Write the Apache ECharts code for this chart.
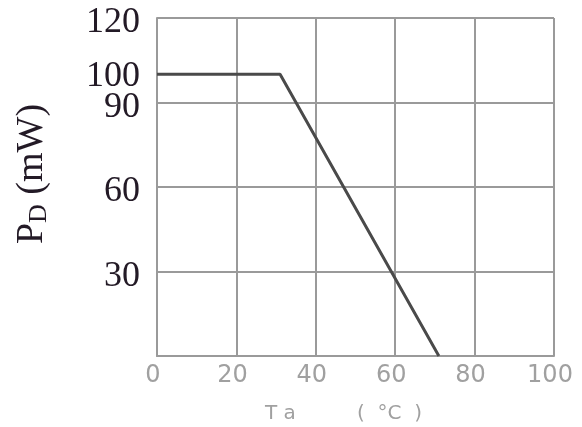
<!DOCTYPE html>
<html>
<head>
<meta charset="utf-8">
<script src="https://cdn.jsdelivr.net/npm/echarts@6/dist/echarts.min.js"></script>
<style>
html,body{margin:0;padding:0;background:#fff;}
#chart{width:582px;height:427px;}
</style>
</head>
<body>
<div id="chart"></div>
<script>
// Data
var temperature = [0, 31, 71];        // Ta (°C)
var powerDissipation = [100, 100, 0]; // PD (mW)
var yGridLabels = [30, 60, 90, 120];
var yExtraLabels = [100];
var xTitleName = 'T a';
var xTitleUnit = '(  °C  )';

var points = temperature.map(function (t, i) { return [t, powerDissipation[i]]; });

var chart = echarts.init(document.getElementById('chart'), null, {renderer: 'canvas'});
var gridColor = '#9a9a9a';
var serifLabel = {fontFamily: 'Liberation Serif', fontSize: 36, color: '#231a26', padding: [10, 0, 0, 0]};
chart.setOption({
  animation: false,
  backgroundColor: '#ffffff',
  grid: {left: 157, right: 28, top: 18, bottom: 71, containLabel: false},
  xAxis: {
    type: 'value', min: 0, max: 100, interval: 20,
    axisLine: {show: true, lineStyle: {color: gridColor, width: 2}},
    axisTick: {show: false},
    splitLine: {show: true, lineStyle: {color: gridColor, width: 2}},
    axisLabel: {
      color: '#a0a0a0', fontFamily: 'DejaVu Sans', fontSize: 24, margin: 8,
      padding: [0, 8, 0, 0]
    }
  },
  yAxis: [{
    type: 'value', min: 0, max: 120, interval: 30, position: 'left',
    axisLine: {show: true, lineStyle: {color: gridColor, width: 2}},
    axisTick: {show: false},
    splitLine: {show: true, lineStyle: {color: gridColor, width: 2}},
    axisLabel: {
      color: '#231a26', fontFamily: 'Liberation Serif', fontSize: 36, margin: 17,
      rich: {s: serifLabel},
      formatter: function (v) { return yGridLabels.indexOf(v) >= 0 ? '{s|' + v + '}' : ''; }
    }
  }, {
    type: 'value', min: 0, max: 120, interval: 10, position: 'left',
    axisLine: {show: false}, axisTick: {show: false}, splitLine: {show: false},
    axisLabel: {
      color: '#231a26', fontFamily: 'Liberation Serif', fontSize: 36, margin: 17,
      rich: {s: {fontFamily: 'Liberation Serif', fontSize: 36, color: '#231a26', padding: [4, 0, 0, 0]}},
      formatter: function (v) { return yExtraLabels.indexOf(v) >= 0 ? '{s|' + v + '}' : ''; }
    }
  }],
  series: [{
    type: 'line',
    data: points,
    showSymbol: false,
    lineStyle: {color: '#4a4a4a', width: 3},
    z: 5
  }],
  graphic: [{
    type: 'text',
    left: 265, top: 404,
    style: {text: xTitleName, fill: '#a0a0a0', font: '20px "DejaVu Sans"'}
  }, {
    type: 'text',
    left: 357, top: 404,
    style: {text: xTitleUnit, fill: '#a0a0a0', font: '20px "DejaVu Sans"'}
  }, {
    type: 'text',
    x: 32, y: 174,
    rotation: Math.PI / 2,
    style: {
      text: '{p|P}{d|D}{p| (mW)}',
      align: 'center', verticalAlign: 'middle',
      rich: {
        p: {fontFamily: 'Liberation Serif', fontSize: 38, fill: '#231a26', color: '#231a26'},
        d: {fontFamily: 'Liberation Serif', fontSize: 26, fill: '#231a26', color: '#231a26', padding: [14, 0, 0, 0]}
      }
    }
  }]
});
</script>
</body>
</html>
